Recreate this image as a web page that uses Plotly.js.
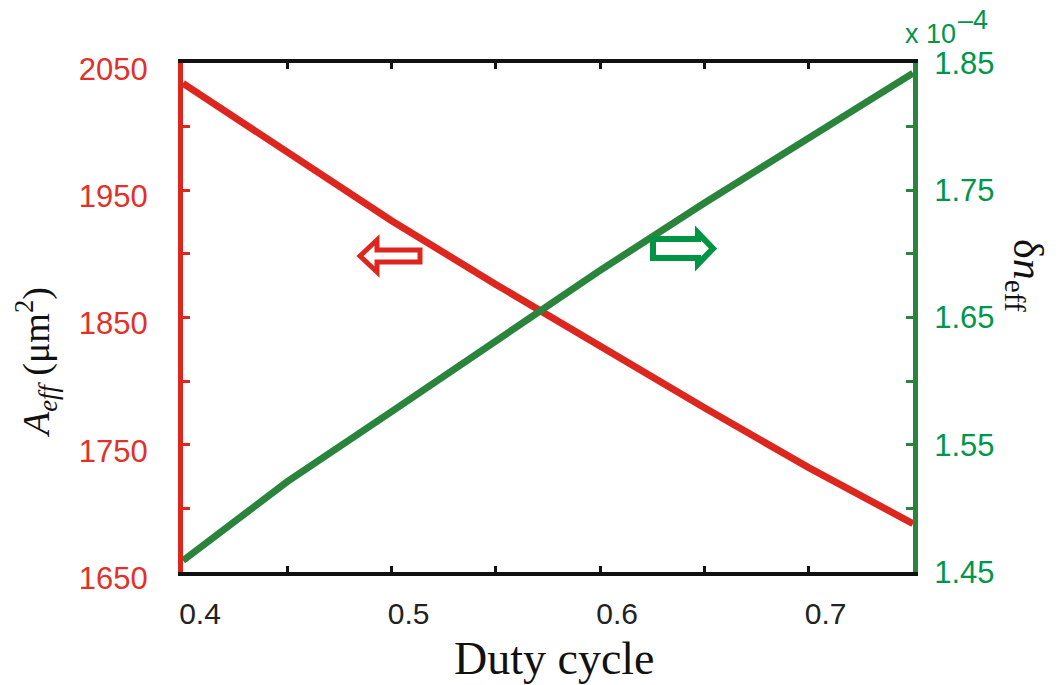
<!DOCTYPE html>
<html>
<head>
<meta charset="utf-8">
<script src="https://cdn.plot.ly/plotly-3.0.1.min.js"></script>
<style>html,body{margin:0;padding:0;background:#fff;}#chart{width:1057px;height:685px;}</style>
</head>
<body>
<div id="chart"></div>
<script>
// ---- data ----
const dutyCycle = [0.40, 0.45, 0.50, 0.55, 0.60, 0.65, 0.70, 0.75];
const aeff = [2034, 1980, 1926, 1876, 1827, 1779, 1732, 1688];          // µm^2, left axis
const dneff = [1.459, 1.521, 1.576, 1.631, 1.687, 1.740, 1.791, 1.842]; // x 1e-4, right axis

const xTickVals = [0.40, 0.45, 0.50, 0.55, 0.60, 0.65, 0.70];
const xTickText = ['0.4', '', '0.5', '', '0.6', '', '0.7'];
const yTickVals = [1650, 1700, 1750, 1800, 1850, 1900, 1950, 2000, 2050];
const yTickText = ['1650', '', '1750', '', '1850', '', '1950', '', '2050'];
const y2TickVals = [1.45, 1.50, 1.55, 1.60, 1.65, 1.70, 1.75, 1.80, 1.85];
const y2TickText = ['1.45', '', '1.55', '', '1.65', '', '1.75', '', '1.85'];

// ---- styling ----
const RED = '#dc261e', RED_TXT = '#e2302a';
const GREEN = '#2a843c', GREEN_TXT = '#00964a', GREEN_ARROW = '#009444';
const W = 1057, H = 685;
const M = {l: 183, r: 144, t: 63, b: 113};
const PW = W - M.l - M.r, PH = H - M.t - M.b;
const px = v => (v - M.l) / PW;
const py = v => (H - M.b - v) / PH;

function blockArrow(tip, tail, cy, base, headHalf, shaftHalf) {
  const pts = [
    [tip, cy], [base, cy - headHalf], [base, cy - shaftHalf], [tail, cy - shaftHalf],
    [tail, cy + shaftHalf], [base, cy + shaftHalf], [base, cy + headHalf]
  ];
  return 'M ' + pts.map(p => px(p[0]).toFixed(5) + ',' + py(p[1]).toFixed(5)).join(' L ') + ' Z';
}

const traces = [
  {x: dutyCycle, y: aeff, type: 'scatter', mode: 'lines', line: {color: RED, width: 7}, yaxis: 'y', hoverinfo: 'skip'},
  {x: dutyCycle, y: dneff, type: 'scatter', mode: 'lines', line: {color: GREEN, width: 7}, yaxis: 'y2', hoverinfo: 'skip'}
];

const sans = 'Liberation Sans, Arial, sans-serif';
const serif = 'Liberation Serif, Times New Roman, serif';

const layout = {
  width: W, height: H,
  margin: M,
  paper_bgcolor: '#fff', plot_bgcolor: '#fff',
  showlegend: false,
  xaxis: {
    range: [0.4, 0.75], showgrid: false, zeroline: false,
    showline: true, linecolor: '#111', linewidth: 4, mirror: 'ticks',
    ticks: 'inside', ticklen: 6, tickwidth: 3, tickcolor: '#111',
    tickvals: xTickVals, ticktext: xTickText,
    tickfont: {family: sans, size: 30, color: '#222'},
    ticklabelshift: 17, ticklabelstandoff: 12
  },
  yaxis: {
    range: [1650, 2050], showgrid: false, zeroline: false,
    showline: true, linecolor: RED, linewidth: 5,
    ticks: 'inside', ticklen: 7, tickwidth: 3, tickcolor: RED,
    tickvals: yTickVals, ticktext: yTickText,
    tickfont: {family: sans, size: 31, color: RED_TXT},
    ticklabelshift: 6, ticklabelstandoff: 24
  },
  yaxis2: {
    range: [1.45, 1.85], overlaying: 'y', side: 'right', anchor: 'x',
    showgrid: false, zeroline: false,
    showline: true, linecolor: GREEN, linewidth: 5,
    ticks: 'inside', ticklen: 7, tickwidth: 3, tickcolor: GREEN,
    tickvals: y2TickVals, ticktext: y2TickText,
    tickfont: {family: sans, size: 31, color: GREEN_TXT},
    ticklabelstandoff: 10
  },
  annotations: [
    {text: 'Duty cycle', xref: 'paper', yref: 'paper', x: px(554), y: py(658), showarrow: false,
     xanchor: 'center', yanchor: 'middle', font: {family: serif, size: 46, color: '#111'}},
    {text: '<i>A<sub>eff</sub></i> (μm<sup>2</sup>)', xref: 'paper', yref: 'paper', x: px(36), y: py(363), showarrow: false,
     textangle: -90, xanchor: 'center', yanchor: 'middle', font: {family: serif, size: 38, color: '#111'}},
    {text: 'δ<i>n</i><sub>eff</sub>', xref: 'paper', yref: 'paper', x: px(1025), y: py(275), showarrow: false,
     textangle: 90, xanchor: 'center', yanchor: 'middle', font: {family: serif, size: 42, color: '#111'}},
    {text: 'x 10', xref: 'paper', yref: 'paper', x: px(903), y: py(34), showarrow: false,
     xanchor: 'left', yanchor: 'middle', font: {family: sans, size: 27, color: GREEN_TXT}},
    {text: '–4', xref: 'paper', yref: 'paper', x: px(956), y: py(20), showarrow: false,
     xanchor: 'left', yanchor: 'middle', font: {family: sans, size: 27, color: GREEN_TXT}}
  ],
  shapes: [
    {type: 'path', xref: 'paper', yref: 'paper', path: blockArrow(360, 420, 256, 377, 16, 6),
     line: {color: RED, width: 5}, fillcolor: '#fff', layer: 'above'},
    {type: 'path', xref: 'paper', yref: 'paper', path: blockArrow(713, 653, 248.5, 698, 15.5, 9.5),
     line: {color: GREEN_ARROW, width: 6}, fillcolor: '#fff', layer: 'above'}
  ]
};

Plotly.newPlot('chart', traces, layout, {displayModeBar: false, staticPlot: true});
</script>
</body>
</html>
